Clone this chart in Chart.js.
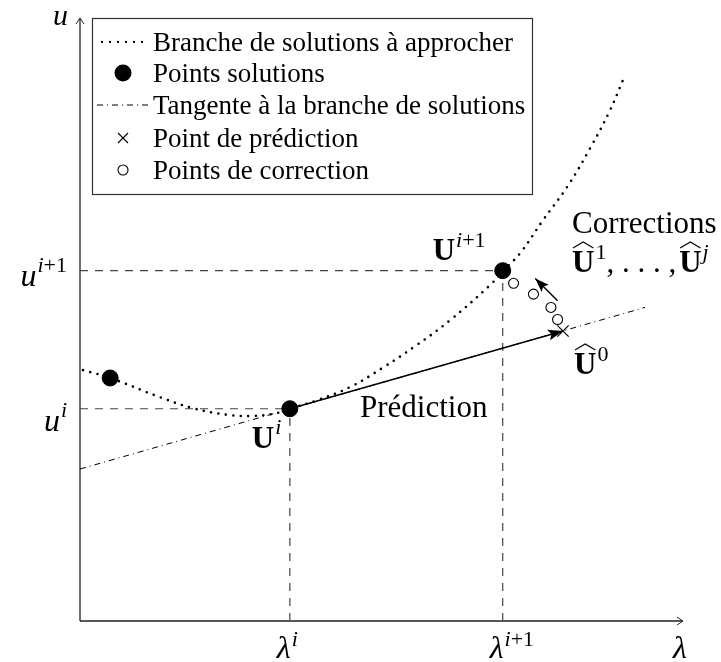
<!DOCTYPE html>
<html><head><meta charset="utf-8">
<script src="https://cdn.jsdelivr.net/npm/chart.js@4"></script>
<style>html,body{margin:0;padding:0;background:#fff}</style>
</head><body>
<canvas id="c" width="721" height="662"></canvas>
<script>
// ---- data (abstract units) ----
const curveX = [0.05, 0.50, 1.33, 1.87, 2.44, 2.87, 3.27, 3.48, 3.93, 4.48, 5.02, 5.59, 6.14, 6.80, 7.01, 7.30, 7.68, 8.08, 8.46, 8.79, 9.00];
const curveY = [4.16, 4.03, 3.71, 3.53, 3.42, 3.40, 3.45, 3.52, 3.66, 3.88, 4.20, 4.58, 4.99, 5.57, 5.80, 6.10, 6.65, 7.20, 7.84, 8.47, 8.96];
const solX = [0.50, 3.48, 7.01];
const solY = [4.03, 3.52, 5.81];
const predX = [8.01];
const predY = [4.81];
const corrX = [7.19, 7.52, 7.81, 7.92];
const corrY = [5.60, 5.42, 5.20, 5.00];
const tangentX = [0.00, 9.37];
const tangentY = [2.52, 5.20];
const corrArrowX = [7.92, 7.55];
const corrArrowY = [5.31, 5.68];
const lamTicks = [3.48, 7.01];
const uTicks = [3.52, 5.81];
const lamTickSup = ['i', 'i+1'];
const uTickSup = ['i', 'i+1'];
const legendLabels = ['Branche de solutions à approcher', 'Points solutions', 'Tangente à la branche de solutions', 'Point de prédiction', 'Points de correction'];
const predLabel = 'Prédiction';
const corrLabel = 'Corrections';

const pts = (xs, ys) => xs.map((x, i) => ({x, y: ys[i]}));
const SERIF = '"Liberation Serif", "DejaVu Serif", serif';

function drawRuns(ctx, x, y, runs) {
  let cx = x;
  const pos = [];
  for (const r of runs) {
    ctx.font = r.f;
    const w = ctx.measureText(r.t).width;
    ctx.fillText(r.t, cx, y + (r.dy || 0));
    pos.push({x: cx, w});
    cx += w + (r.gap || 0);
  }
  return {width: cx - x, pos};
}
function runsWidth(ctx, runs) {
  let w = 0;
  for (const r of runs) { ctx.font = r.f; w += ctx.measureText(r.t).width + (r.gap || 0); }
  return w;
}
function hat(ctx, x, w, yTop) {
  ctx.save();
  ctx.lineWidth = 1.1; ctx.strokeStyle = '#000'; ctx.setLineDash([]);
  ctx.beginPath();
  ctx.moveTo(x + 1, yTop);
  ctx.lineTo(x + w / 2, yTop - 6);
  ctx.lineTo(x + w - 1, yTop);
  ctx.stroke();
  ctx.restore();
}
function arrowHead(ctx, x1, y1, x2, y2, len, half) {
  const a = Math.atan2(y2 - y1, x2 - x1);
  ctx.beginPath();
  ctx.moveTo(x2, y2);
  ctx.lineTo(x2 - len * Math.cos(a) + half * Math.sin(a), y2 - len * Math.sin(a) - half * Math.cos(a));
  ctx.lineTo(x2 - len * Math.cos(a) * 0.8, y2 - len * Math.sin(a) * 0.8);
  ctx.lineTo(x2 - len * Math.cos(a) - half * Math.sin(a), y2 - len * Math.sin(a) + half * Math.cos(a));
  ctx.closePath();
  ctx.fill();
}

const fBig = '31px ' + SERIF;
const fBold = 'bold 31px ' + SERIF;
const fSup = '22px ' + SERIF;
const fSupI = 'italic 22px ' + SERIF;
const fMath = 'italic 32px ' + SERIF;

const axesPlugin = {
  id: 'axesPlugin',
  beforeDatasetsDraw(chart) {
    const {ctx, chartArea: a} = chart;
    ctx.save();
    ctx.strokeStyle = '#222'; ctx.lineWidth = 1.3; ctx.setLineDash([]);
    ctx.beginPath();
    ctx.moveTo(a.left, a.bottom); ctx.lineTo(a.left, a.top);
    ctx.moveTo(a.left, a.bottom); ctx.lineTo(a.right, a.bottom);
    ctx.stroke();
    ctx.lineWidth = 1;
    ctx.beginPath();
    ctx.moveTo(a.left - 4, a.top + 6); ctx.lineTo(a.left, a.top); ctx.lineTo(a.left + 4, a.top + 6);
    ctx.moveTo(a.right - 6, a.bottom - 4); ctx.lineTo(a.right, a.bottom); ctx.lineTo(a.right - 6, a.bottom + 4);
    ctx.stroke();
    ctx.restore();
  },
  afterDatasetsDraw(chart) {
    const {ctx, scales: {x, y}} = chart;
    ctx.save();
    ctx.fillStyle = '#000';
    arrowHead(ctx, x.getPixelForValue(solX[1]), y.getPixelForValue(solY[1]), x.getPixelForValue(predX[0]), y.getPixelForValue(predY[0]), 15, 5.5);
    arrowHead(ctx, x.getPixelForValue(corrArrowX[0]), y.getPixelForValue(corrArrowY[0]), x.getPixelForValue(corrArrowX[1]), y.getPixelForValue(corrArrowY[1]), 14, 5);
    ctx.restore();
  },
  afterDraw(chart) {
    const {ctx, scales: {x, y}, chartArea: a} = chart;
    ctx.save();
    ctx.fillStyle = '#000';
    ctx.textBaseline = 'alphabetic';
    ctx.textAlign = 'left';

    ctx.font = 'italic 30px ' + SERIF;
    ctx.fillText('u', 53, 25);
    ctx.font = fMath;
    ctx.fillText('λ', a.right - 10, 658);

    lamTicks.forEach((v, i) => {
      const runs = [{t: 'λ', f: fMath, gap: 1}, {t: 'i', f: fSupI, dy: -12}];
      if (lamTickSup[i] !== 'i') runs.push({t: '+1', f: fSup, dy: -12});
      const px = x.getPixelForValue(v);
      drawRuns(ctx, px - 13, 658, runs);
    });
    uTicks.forEach((v, i) => {
      const runs = [{t: 'u', f: fMath, gap: 1}, {t: 'i', f: fSupI, dy: -14}];
      if (uTickSup[i] !== 'i') runs.push({t: '+1', f: fSup, dy: -14});
      const w = runsWidth(ctx, runs);
      const py = y.getPixelForValue(v);
      drawRuns(ctx, a.left - 13 - w, py + (i === 0 ? 22 : 15), runs);
    });

    let px = x.getPixelForValue(solX[2]), py = y.getPixelForValue(solY[2]);
    drawRuns(ctx, px - 70, py - 11, [{t: 'U', f: fBold, gap: 1}, {t: 'i', f: fSupI, dy: -13}, {t: '+1', f: fSup, dy: -13}]);
    px = x.getPixelForValue(solX[1]); py = y.getPixelForValue(solY[1]);
    drawRuns(ctx, px - 38, py + 39, [{t: 'U', f: fBold, gap: 1}, {t: 'i', f: fSupI, dy: -14}]);

    ctx.font = fBig;
    ctx.fillText(predLabel, 360, 417);

    ctx.fillText(corrLabel, 572, 233);
    let r = drawRuns(ctx, 572, 272, [
      {t: 'U', f: fBold, gap: 1}, {t: '1', f: fSup, dy: -13},
      {t: ', . . . ,', f: fBig, gap: 3},
      {t: 'U', f: fBold, gap: 1}, {t: 'j', f: fSupI, dy: -13}
    ]);
    hat(ctx, r.pos[0].x, r.pos[0].w, 272 - 24);
    hat(ctx, r.pos[3].x, r.pos[3].w, 272 - 24);

    px = x.getPixelForValue(predX[0]);
    r = drawRuns(ctx, px + 11, 374, [{t: 'U', f: fBold, gap: 1}, {t: '0', f: fSup, dy: -13}]);
    hat(ctx, r.pos[0].x, r.pos[0].w, 374 - 24);

    // legend box
    ctx.strokeStyle = '#333'; ctx.lineWidth = 1.2; ctx.setLineDash([]);
    ctx.fillStyle = '#fff';
    ctx.fillRect(92, 18, 441, 177);
    ctx.strokeRect(92.5, 18.5, 440, 176);
    ctx.fillStyle = '#000';
    const rowY = [42, 73, 105, 138, 170];
    ctx.font = '27px ' + SERIF;
    legendLabels.forEach((t, i) => ctx.fillText(t, 153, rowY[i] + 9));
    ctx.strokeStyle = '#000';
    ctx.lineCap = 'round';
    ctx.lineWidth = 2.3; ctx.setLineDash([0, 8]);
    ctx.beginPath(); ctx.moveTo(102, rowY[0]); ctx.lineTo(150, rowY[0]); ctx.stroke();
    ctx.lineCap = 'butt';
    ctx.lineWidth = 1; ctx.setLineDash([6, 4, 1, 4]);
    ctx.beginPath(); ctx.moveTo(97, rowY[2]); ctx.lineTo(151, rowY[2]); ctx.stroke();
    ctx.setLineDash([]);
    ctx.beginPath(); ctx.arc(123, rowY[1], 8.5, 0, Math.PI * 2); ctx.fill();
    ctx.lineWidth = 1.1;
    ctx.beginPath();
    ctx.moveTo(118, rowY[3] - 5); ctx.lineTo(128, rowY[3] + 5);
    ctx.moveTo(128, rowY[3] - 5); ctx.lineTo(118, rowY[3] + 5);
    ctx.stroke();
    ctx.beginPath(); ctx.arc(123, rowY[4], 5, 0, Math.PI * 2); ctx.stroke();
    ctx.restore();
  }
};

const guideStyle = {type: 'line', borderColor: '#444', borderWidth: 1.2, borderDash: [8, 7], pointRadius: 0, fill: false, order: 5};

new Chart(document.getElementById('c'), {
  type: 'scatter',
  data: {
    datasets: [
      {data: pts(solX, solY), pointRadius: 8, pointBackgroundColor: '#000', pointBorderColor: '#000', order: 0},
      {data: pts(corrX, corrY), pointRadius: 5, pointBackgroundColor: '#fff', pointBorderColor: '#000', pointBorderWidth: 1.1, order: 0},
      {data: pts(predX, predY), pointStyle: 'crossRot', pointRadius: 8, pointBorderColor: '#000', pointBorderWidth: 1.2, order: 0},
      {type: 'line', data: [{x: solX[1], y: solY[1]}, {x: predX[0], y: predY[0]}], borderColor: '#000', borderWidth: 1.4, pointRadius: 0, order: 1},
      {type: 'line', data: pts(corrArrowX, corrArrowY), borderColor: '#000', borderWidth: 1.4, pointRadius: 0, order: 1},
      {type: 'line', data: pts(curveX, curveY), borderColor: '#000', borderWidth: 2.6, borderDash: [0, 7.5], borderCapStyle: 'round', tension: 0.4, pointRadius: 0, order: 2},
      {type: 'line', data: pts(tangentX, tangentY), borderColor: '#000', borderWidth: 1, borderDash: [6, 4, 1, 4], pointRadius: 0, order: 3},
      Object.assign({data: [{x: 0, y: uTicks[1]}, {x: lamTicks[1], y: uTicks[1]}]}, guideStyle),
      Object.assign({data: [{x: 0, y: uTicks[0]}, {x: lamTicks[0], y: uTicks[0]}]}, guideStyle),
      Object.assign({data: [{x: lamTicks[0], y: 0}, {x: lamTicks[0], y: uTicks[0]}]}, guideStyle),
      Object.assign({data: [{x: lamTicks[1], y: 0}, {x: lamTicks[1], y: uTicks[1]}]}, guideStyle)
    ]
  },
  options: {
    responsive: false,
    devicePixelRatio: 1,
    animation: false,
    events: [],
    layout: {padding: {left: 80, right: 38, top: 18, bottom: 41}},
    scales: {
      x: {type: 'linear', min: 0, max: 10, display: false},
      y: {type: 'linear', min: 0, max: 10, display: false}
    },
    plugins: {legend: {display: false}, tooltip: {enabled: false}},
    datasets: {line: {clip: false}, scatter: {clip: false}}
  },
  plugins: [axesPlugin]
});
</script>
</body></html>
